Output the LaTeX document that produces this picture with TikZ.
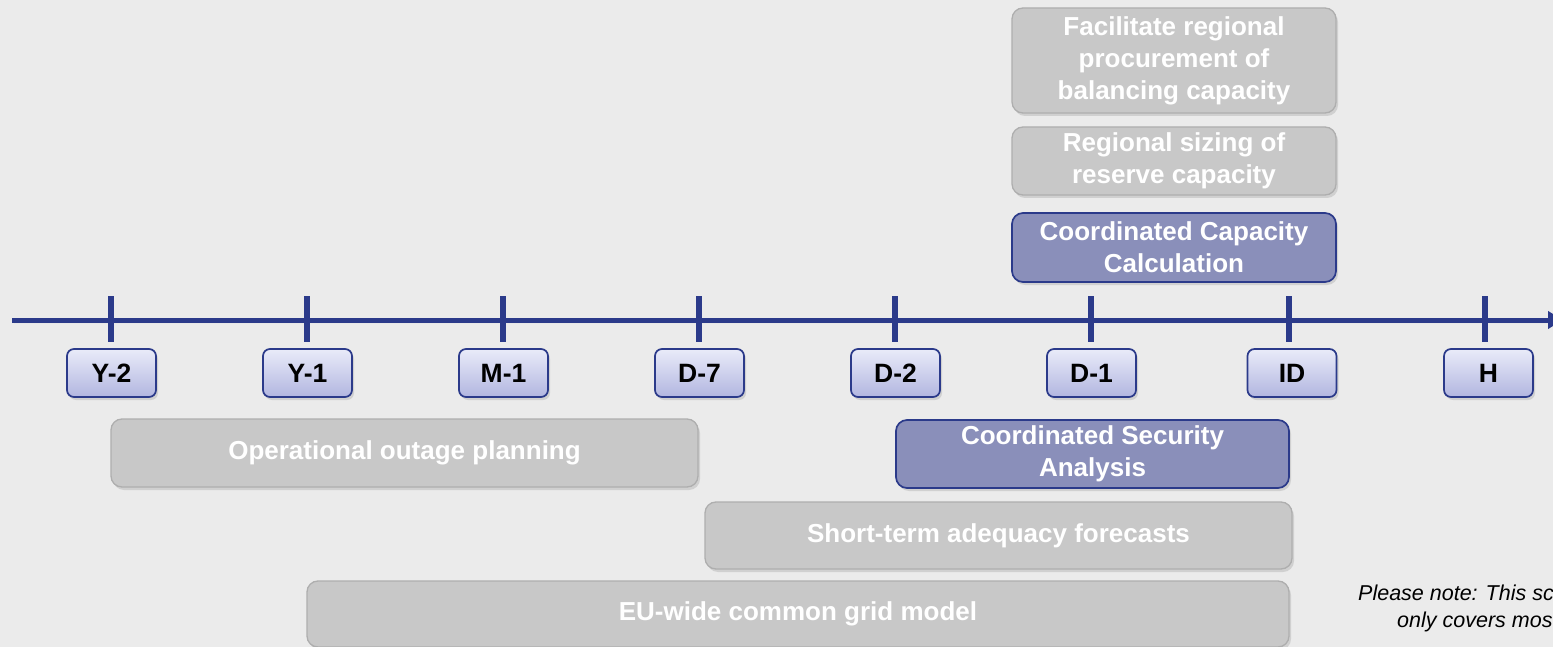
\documentclass[tikz,border=0pt]{standalone}
\usepackage{fontspec}
\setmainfont{Liberation Sans}
\usetikzlibrary{arrows.meta,shadows}
\definecolor{bgc}{HTML}{EBEBEB}
\definecolor{navy}{HTML}{2B3A8A}
\definecolor{grayfill}{HTML}{C8C8C8}
\definecolor{graydraw}{HTML}{AEAEAE}
\definecolor{bluefill}{HTML}{8A8FBA}
\definecolor{labtop}{HTML}{E9EBF9}
\definecolor{labbot}{HTML}{B2B6E0}
\tikzset{
  shad/.style={drop shadow={opacity=0.25,shadow xshift=2pt,shadow yshift=-3pt}},
  labelbox/.style={shad,draw=navy,line width=1.7pt,rounded corners=7pt,
    top color=labtop,bottom color=labbot,minimum width=89pt,minimum height=48pt,
    inner sep=0pt,font=\fontsize{26.5}{30}\selectfont\bfseries,text=black},
  graybox/.style={shad,draw=graydraw,line width=1.3pt,fill=grayfill,rounded corners=11pt,
    inner sep=0pt,align=center,font=\fontsize{26}{32}\selectfont\bfseries,text=white},
  bluebox/.style={graybox,draw=navy,line width=1.7pt,fill=bluefill},
  axisline/.style={navy,line width=5pt},
  tickline/.style={navy,line width=5.5pt},
  notetext/.style={anchor=base west,inner sep=0pt,font=\fontsize{21.5}{27}\selectfont\itshape,text=black}
}
\begin{document}
\begin{tikzpicture}[x=1pt,y=1pt]
\useasboundingbox (0,0) rectangle (1553,-647);
\fill[bgc] (0,0) rectangle (1553,-647);

% axis
\coordinate (axL) at (12,-320);
\coordinate (axR) at (1563,-320);
\draw[axisline,shad,-{Triangle[length=15pt,width=17pt]}] (axL) -- (axR);
\foreach \x in {111,307,503,699,895,1091,1289,1485}{
  \draw[tickline] (\x,-296) -- (\x,-342);
}

% time labels
\node[labelbox] (y2) at (111.5,-373) {Y-2};
\node[labelbox] (y1) at (307.5,-373) {Y-1};
\node[labelbox] (m1) at (503.5,-373) {M-1};
\node[labelbox] (d7) at (699.5,-373) {D-7};
\node[labelbox] (d2) at (895.5,-373) {D-2};
\node[labelbox] (d1) at (1091.5,-373) {D-1};
\node[labelbox] (id) at (1292,-373) {ID};
\node[labelbox] (h)  at (1488.5,-373) {H};

% upper boxes
\node[graybox,minimum width=324pt,minimum height=105pt] (fac) at (1174,-60.5)
  {Facilitate regional\\procurement of\\balancing capacity};
\node[graybox,minimum width=324pt,minimum height=68pt] (siz) at (1174,-161)
  {Regional sizing of\\reserve capacity};
\node[bluebox,minimum width=324pt,minimum height=69pt] (ccc) at (1174,-247.5)
  {Coordinated Capacity\\Calculation};

% lower boxes
\node[graybox,minimum width=587pt,minimum height=68pt] (oop) at (404.5,-453)
  {Operational outage planning};
\node[bluebox,minimum width=393pt,minimum height=68pt] (csa) at (1092.5,-454)
  {Coordinated Security\\Analysis};
\node[graybox,minimum width=587pt,minimum height=67pt] (sta) at (998.5,-535.5)
  {Short-term adequacy forecasts};
\node[graybox,minimum width=982pt,minimum height=66pt] (cgm) at (798,-614)
  {EU-wide common grid model};

% note
\node[notetext] (note1) at (1358,-600) {Please note: This sc};
\node[notetext] (note2) at (1397,-627) {only covers mos};
\end{tikzpicture}
\end{document}
